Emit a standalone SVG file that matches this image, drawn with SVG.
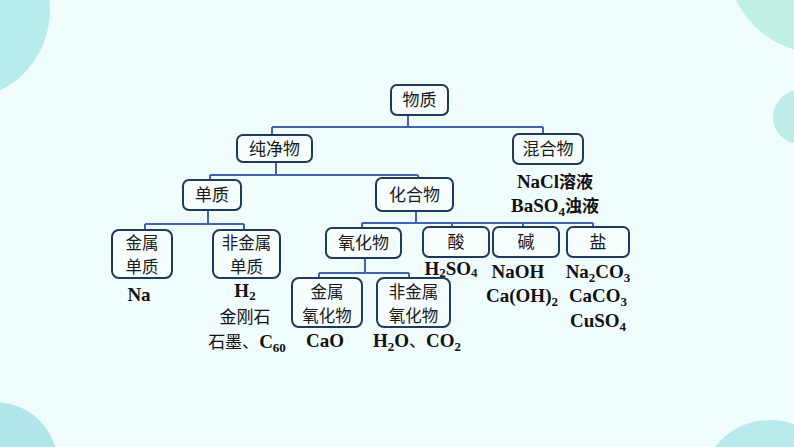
<svg xmlns="http://www.w3.org/2000/svg" width="794" height="447" viewBox="0 0 794 447">
<defs>
<style>
.bg{fill:#f1fcfc}
.box{fill:#f6fefe;stroke:#1f3a5f;stroke-width:2}
.bt{font-family:"Noto Sans CJK SC",sans-serif;font-size:17px;fill:#1a1a1a;text-anchor:middle}
.b2{font-size:16.5px}
.ft{font-family:"Liberation Serif","Noto Sans CJK SC",serif;font-size:19px;font-weight:bold;fill:#111;text-anchor:middle}
.cjk{font-family:"Noto Sans CJK SC",sans-serif;font-size:17px}
.nw{font-weight:normal}
.sub{font-size:13px}
#connectors path{fill:none;stroke:#3f63b0;stroke-width:2}
</style>
</defs>
<rect class="bg" x="0" y="0" width="794" height="447"/>
<g id="background">
<circle cx="-40" cy="10" r="90" fill="#b7eced"/>
<circle cx="820" cy="-40" r="93" fill="#c0efe5"/>
<circle cx="800" cy="117" r="27" fill="#c0ece8"/>
<circle cx="-5" cy="465" r="63" fill="#b3e6ea"/>
<circle cx="770" cy="490" r="70" fill="#b8e9ec"/>
</g>
<g id="connectors">
<path d="M408 115V127M272 127H543M272 127V135M543 127V134"/>
<path d="M276 162V175M210 175H418M210 175V180M418 175V178"/>
<path d="M208 210V224M145 224H244M145 224V230M244 224V230"/>
<path d="M416 211V223M362 223H593M362 223V228M452 223V227M523 223V227M593 223V227"/>
<path d="M365 258V273M319 273H409M319 273V278M409 273V278"/>
</g>
<g id="n-wuzhi"><rect class="box" x="391" y="85" width="57" height="30" rx="6"/><text class="bt" x="419.5" y="106">物质</text></g>
<g id="n-chunjingwu"><rect class="box" x="237" y="135" width="75" height="27" rx="6"/><text class="bt" x="274.5" y="155">纯净物</text></g>
<g id="n-hunhewu"><rect class="box" x="513" y="134" width="70" height="30" rx="6"/><text class="bt" x="548" y="155">混合物</text>
<text class="ft" x="555" y="188">NaCl<tspan class="cjk">溶液</tspan><tspan x="555" y="212">BaSO</tspan><tspan class="sub" dy="4">4</tspan><tspan class="cjk" dy="-4">浊液</tspan></text></g>
<g id="n-danzhi"><rect class="box" x="183" y="180" width="58" height="30" rx="6"/><text class="bt" x="212" y="201">单质</text></g>
<g id="n-huahewu"><rect class="box" x="376" y="178" width="77" height="33" rx="6"/><text class="bt" x="414.5" y="201">化合物</text></g>
<g id="n-jinshudanzhi"><rect class="box" x="112" y="230" width="60" height="48" rx="7"/><text class="bt b2" x="142" y="249">金属<tspan x="142" y="273">单质</tspan></text>
<text class="ft" x="139" y="301">Na</text></g>
<g id="n-feijinshudanzhi"><rect class="box" x="213" y="230" width="67" height="48" rx="7"/><text class="bt b2" x="246.5" y="249">非金属<tspan x="246.5" y="273">单质</tspan></text>
<text class="ft" x="245" y="297">H<tspan class="sub" dy="3">2</tspan><tspan class="cjk nw" x="245" y="323">金刚石</tspan></text>
<text class="ft" x="247" y="348"><tspan class="cjk nw">石墨、</tspan>C<tspan class="sub" dy="4">60</tspan></text></g>
<g id="n-yanghuawu"><rect class="box" x="326" y="228" width="75" height="30" rx="6"/><text class="bt" x="363.5" y="249">氧化物</text></g>
<g id="n-suan"><rect class="box" x="423" y="227" width="66" height="30" rx="6"/><text class="bt" x="456" y="248">酸</text>
<text class="ft" x="451" y="274.5">H<tspan class="sub" dy="2">2</tspan><tspan dy="-2">SO</tspan><tspan class="sub" dy="2">4</tspan></text></g>
<g id="n-jian"><rect class="box" x="493" y="227" width="66" height="30" rx="6"/><text class="bt" x="526" y="248">碱</text>
<text class="ft" x="518" y="278">NaOH<tspan x="522" y="302">Ca(OH)</tspan><tspan class="sub" dy="4">2</tspan></text></g>
<g id="n-yan"><rect class="box" x="567" y="227" width="62" height="30" rx="6"/><text class="bt" x="598" y="248">盐</text>
<text class="ft" x="598" y="278">Na<tspan class="sub" dy="4">2</tspan><tspan dy="-4">CO</tspan><tspan class="sub" dy="4">3</tspan><tspan x="598" y="302">CaCO</tspan><tspan class="sub" dy="4">3</tspan><tspan x="598" y="327">CuSO</tspan><tspan class="sub" dy="4">4</tspan></text></g>
<g id="n-jinshuyanghuawu"><rect class="box" x="292" y="278" width="70" height="49" rx="7"/><text class="bt b2" x="327" y="298">金属<tspan x="327" y="322">氧化物</tspan></text>
<text class="ft" x="325" y="347">CaO</text></g>
<g id="n-feijinshuyanghuawu"><rect class="box" x="377" y="278" width="73" height="49" rx="7"/><text class="bt b2" x="413.5" y="298">非金属<tspan x="413.5" y="322">氧化物</tspan></text>
<text class="ft" x="417" y="347">H<tspan class="sub" dy="4">2</tspan><tspan dy="-4">O</tspan><tspan class="cjk nw">、</tspan>CO<tspan class="sub" dy="4">2</tspan></text></g>
</svg>
